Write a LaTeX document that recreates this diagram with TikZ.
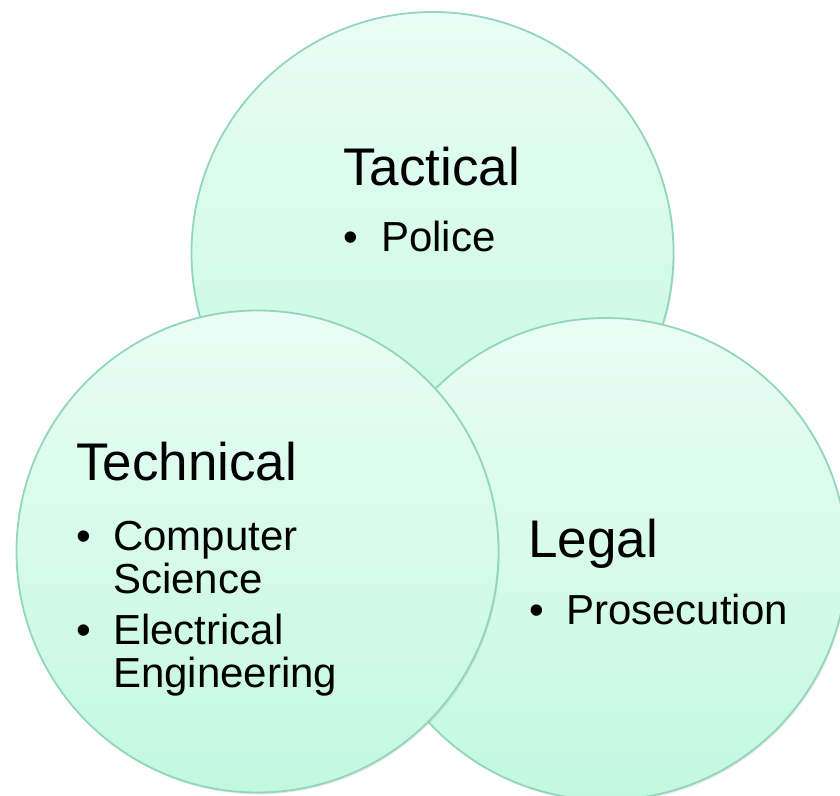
\documentclass[tikz,border=0pt]{standalone}
\usepackage{fontspec}
\setmainfont{Liberation Sans}
\usetikzlibrary{shadows}
\definecolor{mintTop}{RGB}{234,253,246}
\definecolor{mintBot}{RGB}{194,248,224}
\definecolor{mintEdge}{RGB}{146,214,188}
\tikzset{
  venn/.style={circle, minimum size=482pt, inner sep=0pt, draw=mintEdge, line width=1.8pt,
    top color=mintTop, bottom color=mintBot,
    drop shadow={opacity=0.18, shadow xshift=1.2pt, shadow yshift=-1.8pt}},
  heading/.style={anchor=base west, inner sep=0pt, text=black, font=\fontsize{53}{63}\selectfont},
  item/.style={anchor=base west, inner sep=0pt, text=black, font=\fontsize{42}{50}\selectfont},
}
\begin{document}
\begin{tikzpicture}[x=1pt,y=1pt]
\useasboundingbox (0,0) rectangle (840,795);
% circles (image y measured from top: y = 795 - y_img)
\node[venn] (tactical) at (432.5,542) {};
\node[venn] (legal) at (606,236) {};
\node[venn] (technical) at (257.5,243.5) {};
% Tactical
\node[heading] (tacT) at (343,609) {Tactical};
\node[item] (tacB) at (343,543) {•};
\node[item] (tacP) at (381,543) {Police};
% Technical
\node[heading] (tecT) at (76,314) {Technical};
\node[item] (tecB1) at (76,244) {•};
\node[item] (tecC) at (113,244) {Computer};
\node[item] (tecS) at (113,201) {Science};
\node[item] (tecB2) at (76,150) {•};
\node[item] (tecE) at (113,150) {Electrical};
\node[item] (tecG) at (113,107) {Engineering};
% Legal
\node[heading] (legT) at (528,237) {Legal};
\node[item] (legB) at (529,170) {•};
\node[item] (legP) at (566,170) {Prosecution};
\end{tikzpicture}
\end{document}
